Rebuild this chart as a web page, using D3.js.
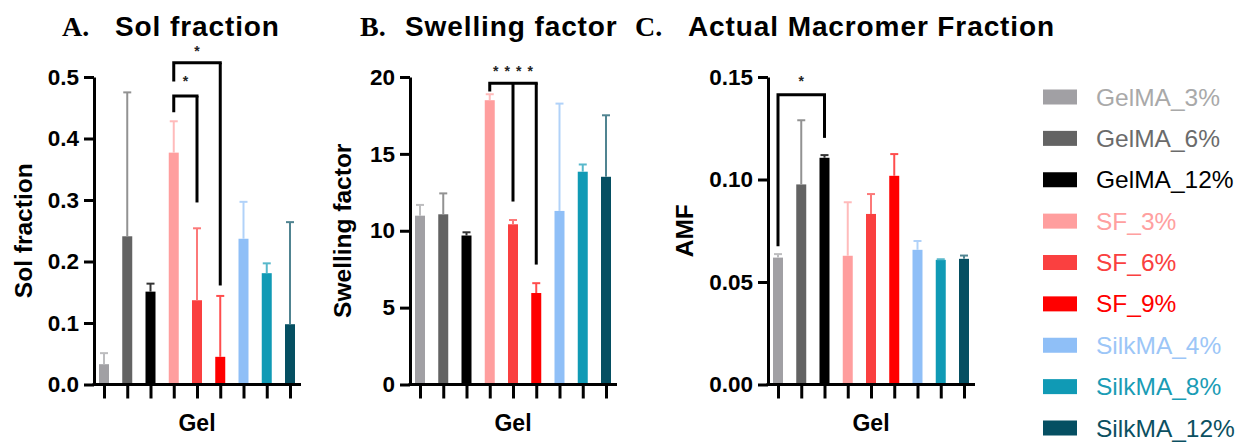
<!DOCTYPE html>
<html>
<head>
<meta charset="utf-8">
<script src="https://cdn.jsdelivr.net/npm/d3@7/dist/d3.min.js"></script>
<style>
  html, body { margin: 0; padding: 0; background: #fff; }
  svg { display: block; }
  .sans { font-family: "Liberation Sans", Arial, Helvetica, sans-serif; }
  .serif { font-family: "Liberation Serif", "Times New Roman", serif; }
</style>
</head>
<body>
<svg id="chart" width="1247" height="444"></svg>
<script>
// Hydrogel groups and their colours
const categories = ["GelMA_3%", "GelMA_6%", "GelMA_12%", "SF_3%", "SF_6%", "SF_9%", "SilkMA_4%", "SilkMA_8%", "SilkMA_12%"];
const groupColors = ["#a1a0a4", "#636363", "#000000", "#ff9e9e", "#fa4040", "#ff0000", "#8fbff7", "#109ab5", "#054f62"];
const legendTextColors = ["#a9a9a9", "#6b6b6b", "#000000", "#ffa0a0", "#fa4040", "#ff0000", "#9cc6f7", "#1a9cb5", "#0b5061"];

// A. Sol fraction (mean, SD)
const solMean = [0.033, 0.241, 0.151, 0.377, 0.137, 0.045, 0.237, 0.181, 0.098];
const solSD   = [0.018, 0.234, 0.013, 0.051, 0.117, 0.099, 0.060, 0.016, 0.166];
const solTicks = [0, 0.1, 0.2, 0.3, 0.4, 0.5];

// B. Swelling factor (mean, SD)
const swellMean = [10.98, 11.07, 9.69, 18.49, 10.42, 5.95, 11.29, 13.84, 13.51];
const swellSD   = [0.70, 1.36, 0.21, 0.39, 0.28, 0.64, 6.98, 0.47, 4.00];
const swellTicks = [0, 5, 10, 15, 20];

// C. Actual macromer fraction (mean, SD)
const amfMean = [0.0619, 0.0976, 0.1106, 0.0628, 0.0832, 0.1018, 0.0657, 0.0608, 0.0613];
const amfSD   = [0.0017, 0.0313, 0.0013, 0.0261, 0.0097, 0.0106, 0.0043, 0.0003, 0.0016];
const amfTicks = [0, 0.05, 0.10, 0.15];

// Significance brackets: reference group, compared groups, heights in data units
const solBrackets = [
  { ref: 3, others: [4], top: 0.469, refLeg: 0.445, legs: [0.296], stars: 1, starY: 0.497 },
  { ref: 3, others: [5], top: 0.523, refLeg: 0.495, legs: [0.161], stars: 1, starY: 0.547 }
];
const swellBrackets = [
  { ref: 3, others: [4, 5], top: 19.6, refLeg: 19.15, legs: [11.9, 7.8], stars: 4, starY: 20.55 }
];
const amfBrackets = [
  { ref: 0, others: [2], top: 0.1413, refLeg: 0.0682, legs: [0.1203], stars: 1, starY: 0.1495 }
];

const svg = d3.select("#chart");
svg.append("rect").attr("width", 1247).attr("height", 444).attr("fill", "#fff");

const plotTop = 77, plotBottom = 384.5;
const axisLen = 207;

function lighten(c, t) { return d3.interpolateRgb(c, "#ffffff")(t); }

function panel(opts) {
  const g = svg.append("g");
  const x0 = opts.x0;
  const x = d3.scalePoint().domain(categories).range([x0 + 10, x0 + 196]);
  const y = d3.scaleLinear().domain([0, opts.max]).range([plotBottom, plotTop]);
  const bw = 10;

  // bars
  g.selectAll("rect.bar").data(categories).join("rect")
    .attr("class", "bar")
    .attr("x", d => x(d) - bw / 2)
    .attr("width", bw)
    .attr("y", (d, i) => y(opts.mean[i]))
    .attr("height", (d, i) => plotBottom - y(opts.mean[i]))
    .attr("fill", (d, i) => groupColors[i]);

  // error bars (upper only)
  const eb = g.selectAll("g.err").data(categories).join("g").attr("class", "err")
    .attr("stroke", (d, i) => i === 2 ? "#333" : lighten(groupColors[i], 0.3))
    .attr("stroke-width", 2);
  eb.append("line")
    .attr("x1", d => x(d)).attr("x2", d => x(d))
    .attr("y1", (d, i) => y(opts.mean[i]))
    .attr("y2", (d, i) => y(opts.mean[i] + opts.sd[i]));
  eb.append("line")
    .attr("x1", d => x(d) - 4).attr("x2", d => x(d) + 4)
    .attr("y1", (d, i) => y(opts.mean[i] + opts.sd[i]))
    .attr("y2", (d, i) => y(opts.mean[i] + opts.sd[i]));

  // y axis
  const ya = g.append("g").attr("transform", `translate(${x0},0)`)
    .call(d3.axisLeft(y).tickValues(opts.ticks).tickFormat(opts.fmt)
      .tickSize(10).tickSizeOuter(0).tickPadding(5));
  ya.select(".domain").attr("stroke", "#000").attr("stroke-width", 3);
  ya.selectAll(".tick line").attr("stroke", "#000").attr("stroke-width", 3);
  ya.selectAll(".tick text")
    .attr("class", "sans")
    .attr("font-size", 22.5).attr("font-weight", "bold").attr("fill", "#000");

  // x axis
  g.append("line")
    .attr("x1", x0 - 1.5).attr("x2", x0 + axisLen)
    .attr("y1", plotBottom).attr("y2", plotBottom)
    .attr("stroke", "#000").attr("stroke-width", 3);
  const xa = g.append("g").attr("transform", `translate(0,${plotBottom})`)
    .call(d3.axisBottom(x).tickSize(14).tickSizeOuter(0).tickFormat(""));
  xa.select(".domain").remove();
  xa.selectAll(".tick line").attr("stroke", "#000").attr("stroke-width", 3);

  // axis titles
  g.append("text").attr("class", "sans")
    .attr("x", x(categories[4])).attr("y", 431)
    .attr("text-anchor", "middle").attr("font-size", 23).attr("font-weight", "bold")
    .text("Gel");
  g.append("text").attr("class", "sans")
    .attr("transform", `translate(${opts.ylabX},${(plotTop + plotBottom) / 2}) rotate(-90)`)
    .attr("text-anchor", "middle").attr("font-size", 24.5).attr("font-weight", "bold")
    .text(opts.ylabel);

  // panel heading
  g.append("text").attr("class", "serif")
    .attr("x", opts.letterX).attr("y", 36)
    .attr("font-size", 28).attr("font-weight", "bold")
    .text(opts.letter);
  g.append("text").attr("class", "sans")
    .attr("x", opts.titleX).attr("y", 36)
    .attr("font-size", 28).attr("font-weight", "bold")
    .attr("letter-spacing", 0.9)
    .text(opts.title);

  // significance brackets
  opts.brackets.forEach(b => {
    const xr = x(categories[b.ref]);
    const xs = b.others.map(o => x(categories[o]));
    const xEnd = d3.max(xs);
    const p = `M${xr},${y(b.refLeg)}V${y(b.top)}H${xEnd}`;
    g.append("path").attr("d", p).attr("fill", "none")
      .attr("stroke", "#000").attr("stroke-width", 3)
      .attr("stroke-linejoin", "miter").attr("stroke-linecap", "square");
    xs.forEach((xx, k) => {
      g.append("line").attr("x1", xx).attr("x2", xx)
        .attr("y1", y(b.top)).attr("y2", y(b.legs[k]))
        .attr("stroke", "#000").attr("stroke-width", 3);
    });
    const cx = (xr + xEnd) / 2, gap = 11.5;
    d3.range(b.stars).forEach(k => {
      g.append("text").attr("class", "sans")
        .attr("x", cx + (k - (b.stars - 1) / 2) * gap).attr("y", y(b.starY) + 7.5)
        .attr("text-anchor", "middle").attr("font-size", 14).attr("fill", "#222")
        .attr("font-weight", "bold")
        .text("*");
    });
  });
}

panel({ x0: 94, max: 0.5, mean: solMean, sd: solSD, ticks: solTicks,
  fmt: d3.format(".1f"), ylabel: "Sol fraction", ylabX: 32,
  letter: "A.", letterX: 62, title: "Sol fraction", titleX: 115, brackets: solBrackets });

panel({ x0: 410, max: 20, mean: swellMean, sd: swellSD, ticks: swellTicks,
  fmt: d3.format("d"), ylabel: "Swelling factor", ylabX: 351,
  letter: "B.", letterX: 360, title: "Swelling factor", titleX: 405, brackets: swellBrackets });

panel({ x0: 768, max: 0.15, mean: amfMean, sd: amfSD, ticks: amfTicks,
  fmt: d3.format(".2f"), ylabel: "AMF", ylabX: 693,
  letter: "C.", letterX: 635, title: "Actual Macromer Fraction", titleX: 688, brackets: amfBrackets });

// legend
const legend = svg.append("g");
const ly = d3.scalePoint().domain(categories).range([97, 428]);
const items = legend.selectAll("g").data(categories).join("g")
  .attr("transform", d => `translate(0,${ly(d)})`);
items.append("rect").attr("x", 1043).attr("y", -7.5).attr("width", 34).attr("height", 15)
  .attr("fill", (d, i) => groupColors[i]);
items.append("text").attr("class", "sans")
  .attr("x", 1096).attr("y", 8.5)
  .attr("font-size", 24.5)
  .attr("fill", (d, i) => legendTextColors[i])
  .text(d => d);
</script>
</body>
</html>
